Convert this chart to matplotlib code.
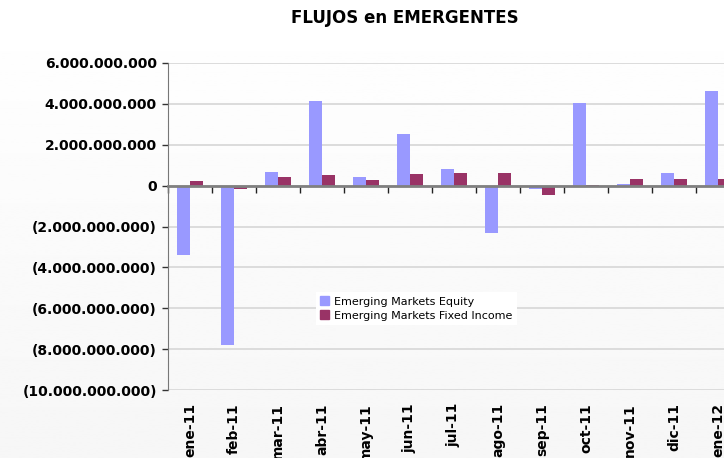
import numpy as np
import matplotlib.pyplot as plt
from matplotlib.patches import Patch

# monthly flows (USD)
months = ['ene-11', 'feb-11', 'mar-11', 'abr-11', 'may-11', 'jun-11', 'jul-11',
          'ago-11', 'sep-11', 'oct-11', 'nov-11', 'dic-11', 'ene-12']
equity = [-3.41e9, -7.79e9, 0.68e9, 4.15e9, 0.40e9, 2.54e9, 0.83e9,
          -2.33e9, -0.18e9, 4.05e9, 0.10e9, 0.63e9, 4.63e9]
fixed_income = [0.24e9, -0.15e9, 0.44e9, 0.54e9, 0.29e9, 0.59e9, 0.63e9,
                0.63e9, -0.47e9, 0.04e9, 0.34e9, 0.34e9, 0.34e9]
y_ticks = [6e9, 4e9, 2e9, 0, -2e9, -4e9, -6e9, -8e9, -10e9]

eq_color = '#9999FF'
fi_color = '#993366'


def fmt(v):
    s = f"{abs(v):,.0f}".replace(',', '.')
    return f"({s})" if v < 0 else s


fig = plt.figure(figsize=(7.24, 4.58), dpi=100)

# very soft vertical gradient behind everything
bg = fig.add_axes([0, 0, 1, 1], zorder=-10)
grad = np.linspace(1.0, 0.965, 256).reshape(-1, 1)
bg.imshow(grad, aspect='auto', cmap='gray', vmin=0, vmax=1, extent=[0, 1, 0, 1])
bg.axis('off')

# axes run past the right edge, like the original crop
ax = fig.add_axes([168 / 724, 68 / 458, 572 / 724, 327 / 458])
ax.patch.set_alpha(0)

x = np.arange(len(months))
w = 0.3
ax.bar(x - w / 2, equity, w, color=eq_color, zorder=3)
ax.bar(x + w / 2, fixed_income, w, color=fi_color, zorder=3)

ax.set_xlim(-0.5, len(months) - 0.5)
ax.set_ylim(-10e9, 6e9)
ax.set_yticks(y_ticks)
ax.set_yticklabels([fmt(v) for v in y_ticks], fontsize=10, fontweight='bold')
ax.yaxis.grid(True, color='#d9d9d9', linewidth=1.3, zorder=0)
ax.tick_params(axis='y', direction='out', length=4, width=1, color='#333333', pad=4)

for s in ['top', 'right']:
    ax.spines[s].set_visible(False)
ax.spines['left'].set_color('#777777')
ax.spines['bottom'].set_position(('data', 0))
ax.spines['bottom'].set_color('#808080')
ax.spines['bottom'].set_linewidth(2)
ax.spines['bottom'].set_zorder(4)

ax.set_xticks(np.arange(len(months) + 1) - 0.5)
ax.set_xticklabels([])
ax.tick_params(axis='x', direction='out', length=5, width=1, color='#222222')

for i, m in enumerate(months):
    ax.text(i, -0.04, m, transform=ax.get_xaxis_transform(), rotation=90,
            ha='center', va='top', fontsize=10, fontweight='bold')

fig.text(405 / 724, 440 / 458, 'FLUJOS en EMERGENTES', ha='center', va='center',
         fontsize=12, fontweight='bold')

handles = [Patch(color=eq_color, label='Emerging Markets Equity'),
           Patch(color=fi_color, label='Emerging Markets Fixed Income')]
leg = fig.legend(handles=handles, loc='upper left', bbox_to_anchor=(316 / 724, 1 - 292 / 458),
                 fontsize=8, frameon=True, handlelength=0.8, handleheight=0.8,
                 handletextpad=0.4, labelspacing=0.35, borderpad=0.4, borderaxespad=0)
leg.get_frame().set_facecolor('white')
leg.get_frame().set_edgecolor('none')
leg.get_frame().set_alpha(1)
leg.get_frame().set_boxstyle('square', pad=0)

fig.savefig('out.png', dpi=100)
